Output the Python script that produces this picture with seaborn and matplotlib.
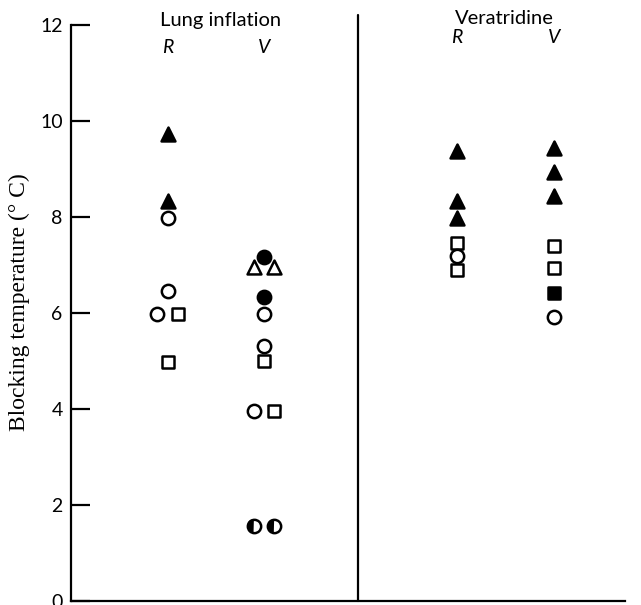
import numpy as np
import pandas as pd
import matplotlib
matplotlib.use("Agg")
import matplotlib.pyplot as plt
import seaborn as sns
from matplotlib.path import Path

# ---------------- data ----------------
group_names = ["Lung inflation", "Veratridine"]
column_names = ["R", "V"]
y_ticks = [0, 2, 4, 6, 8, 10, 12]
y_label = "Blocking temperature (° C)"

lung_R_values = [9.72, 8.34, 7.98, 6.46, 5.98, 5.98, 4.98]
lung_R_symbols = ["tri_f", "tri_f", "circ_o", "circ_o", "circ_o", "sq_o", "sq_o"]
lung_R_side = [0, 0, 0, 0, -1, 1, 0]

lung_V_values = [6.96, 6.96, 7.17, 6.33, 5.98, 5.31, 5.00, 3.95, 3.95, 1.57, 1.57]
lung_V_symbols = ["tri_o", "tri_o", "circ_f", "circ_f", "circ_o", "circ_o", "sq_o",
                  "circ_o", "sq_o", "half", "half"]
lung_V_side = [-1, 1, 0, 0, 0, 0, 0, -1, 1, -1, 1]

ver_R_values = [9.38, 8.34, 7.98, 7.46, 6.90, 7.19]
ver_R_symbols = ["tri_f", "tri_f", "tri_f", "sq_o", "sq_o", "circ_o"]
ver_R_side = [0, 0, 0, 0, 0, 0]

ver_V_values = [9.44, 8.94, 8.44, 7.40, 6.94, 6.42, 5.92]
ver_V_symbols = ["tri_f", "tri_f", "tri_f", "sq_o", "sq_o", "sq_f", "circ_o"]
ver_V_side = [0, 0, 0, 0, 0, 0, 0]

# ---------------- build table ----------------
col_pos = {("Lung inflation", "R"): 1.0, ("Lung inflation", "V"): 2.0,
           ("Veratridine", "R"): 4.0, ("Veratridine", "V"): 5.0}
dodge = 0.105

rows = []
for g, c, vals, syms, sides in [
    ("Lung inflation", "R", lung_R_values, lung_R_symbols, lung_R_side),
    ("Lung inflation", "V", lung_V_values, lung_V_symbols, lung_V_side),
    ("Veratridine", "R", ver_R_values, ver_R_symbols, ver_R_side),
    ("Veratridine", "V", ver_V_values, ver_V_symbols, ver_V_side),
]:
    for v, s, sd in zip(vals, syms, sides):
        rows.append({"group": g, "col": c, "value": v, "symbol": s,
                     "x": col_pos[(g, c)] + sd * dodge})
df = pd.DataFrame(rows)

# ---------------- style ----------------
sns.set_theme(style="white")
plt.rcParams["font.family"] = ["Lato", "DejaVu Sans"]

fig = plt.figure(figsize=(6.41, 6.05), dpi=100)
ax = fig.add_axes([71 / 641, 4 / 605, 554 / 641, 576 / 605])

theta = np.linspace(np.pi / 2, 3 * np.pi / 2, 60)
half_left = Path(np.column_stack([np.cos(theta), np.sin(theta)]), closed=True)

lw = 1.8
styles = {
    "tri_o": dict(marker="^", s=100, facecolor="white", edgecolor="black", linewidth=lw),
    "tri_f": dict(marker="^", s=100, facecolor="black", edgecolor="black", linewidth=lw),
    "sq_o": dict(marker="s", s=72, facecolor="white", edgecolor="black", linewidth=lw),
    "sq_f": dict(marker="s", s=72, facecolor="black", edgecolor="black", linewidth=lw),
    "circ_o": dict(marker="o", s=92, facecolor="white", edgecolor="black", linewidth=lw),
    "circ_f": dict(marker="o", s=92, facecolor="black", edgecolor="black", linewidth=lw),
}
order = ["tri_o", "sq_o", "circ_o", "sq_f", "circ_f", "tri_f"]
for i, key in enumerate(order):
    sub = df[df["symbol"] == key]
    if len(sub):
        sns.scatterplot(data=sub, x="x", y="value", ax=ax, legend=False,
                        zorder=3 + i, **styles[key])

half = df[df["symbol"] == "half"]
sns.scatterplot(data=half, x="x", y="value", ax=ax, legend=False, zorder=10,
                marker="o", s=92, facecolor="white", edgecolor="black", linewidth=lw)
sns.scatterplot(data=half, x="x", y="value", ax=ax, legend=False, zorder=11,
                marker=half_left, s=92, facecolor="black", edgecolor="none", linewidth=0)

# ---------------- axes ----------------
ax.set_xlim(0, 5.74)
ax.set_ylim(0, 12)
ax.set_xticks([])
ax.set_yticks(y_ticks)
ax.set_yticklabels([str(t) for t in y_ticks], fontsize=14)
ax.tick_params(axis="y", direction="in", length=13.5, width=1.6, pad=6,
               colors="black", left=True)
ax.set_xlabel("")
ax.set_ylabel("")
for side in ["top", "right"]:
    ax.spines[side].set_visible(False)
for side in ["left", "bottom"]:
    ax.spines[side].set_color("black")
    ax.spines[side].set_linewidth(1.6)

# divider
ax.plot([2.97, 2.97], [0, 12.2], color="black", lw=1.6, clip_on=False, zorder=2)

# group headers
ax.text(1.55, 11.98, group_names[0], ha="center", va="baseline", fontsize=14.5,
        color="black", clip_on=False)
ax.text(4.49, 12.02, group_names[1], ha="center", va="baseline", fontsize=14.5,
        color="black", clip_on=False)
for (g, c), xp in col_pos.items():
    yb = 11.42 if g == "Lung inflation" else 11.62
    ax.text(xp, yb, c, ha="center", va="baseline", fontsize=14, style="italic",
            color="black", clip_on=False)

fig.text(19 / 641, 1 - 302 / 605, y_label, rotation=90, ha="center", va="center",
         fontsize=17, family=["Liberation Serif", "DejaVu Serif"], color="black")

fig.savefig("out.png", dpi=100)
